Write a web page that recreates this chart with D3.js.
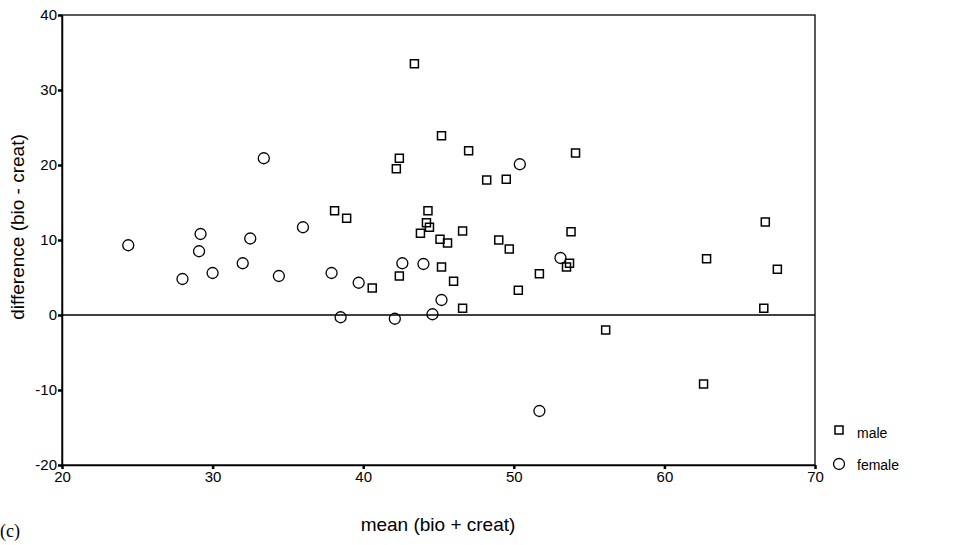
<!DOCTYPE html>
<html>
<head>
<meta charset="utf-8">
<script src="https://cdn.jsdelivr.net/npm/d3@7"></script>
<style>
  body { margin: 0; background: #fff; }
  text { font-family: "Liberation Sans", Arial, sans-serif; fill: #000; }
</style>
</head>
<body>
<svg id="chart"></svg>
<script>
// Data
const maleMean = [43.4, 45.2, 47.0, 42.4, 42.2, 48.2, 49.5, 54.1, 38.1, 38.9, 44.3, 44.2, 44.4, 43.8,
  45.1, 45.6, 46.6, 49.0, 49.7, 53.8, 53.7, 53.5, 51.7, 50.3, 45.2, 42.4, 46.0, 40.6, 46.6, 56.1,
  66.7, 62.8, 67.5, 66.6, 62.6];
const maleDiff = [33.5, 23.9, 21.9, 20.9, 19.5, 18.0, 18.1, 21.6, 13.9, 12.9, 13.9, 12.3, 11.7, 10.9,
  10.1, 9.6, 11.2, 10.0, 8.8, 11.1, 6.9, 6.4, 5.5, 3.3, 6.4, 5.2, 4.5, 3.6, 0.9, -2.0,
  12.4, 7.5, 6.1, 0.9, -9.2];
const femaleMean = [50.4, 36.0, 37.9, 39.7, 42.6, 44.0, 45.2, 38.5, 42.1, 44.6, 53.1,
  24.4, 29.2, 29.1, 28.0, 30.0, 32.0, 32.5, 34.4, 33.4, 51.7];
const femaleDiff = [20.1, 11.7, 5.6, 4.3, 6.9, 6.8, 2.0, -0.3, -0.5, 0.1, 7.6,
  9.3, 10.8, 8.5, 4.8, 5.6, 6.9, 10.2, 5.2, 20.9, -12.8];
const xTicks = [20, 30, 40, 50, 60, 70];
const yTicks = [-20, -10, 0, 10, 20, 30, 40];

const W = 968, H = 545;
const margin = { top: 15, right: 153, bottom: 80, left: 62 };
const width = W - margin.left - margin.right;
const height = H - margin.top - margin.bottom;

const svg = d3.select("#chart").attr("width", W).attr("height", H);
const g = svg.append("g").attr("transform", `translate(${margin.left},${margin.top})`);

const x = d3.scaleLinear().domain([20, 70]).range([0, width]);
const y = d3.scaleLinear().domain([-20, 40]).range([height, 0]);

// Frame
g.append("rect")
  .attr("width", width).attr("height", height)
  .attr("fill", "none").attr("stroke", "#000").attr("stroke-width", 1.3);

// Axes (plain hyphen for negatives, like the original)
const fmt = d => String(d);
const xAxis = g.append("g")
  .attr("transform", `translate(0,${height})`)
  .call(d3.axisBottom(x).tickValues(xTicks).tickFormat(fmt).tickSize(4).tickSizeOuter(0));
const yAxis = g.append("g")
  .call(d3.axisLeft(y).tickValues(yTicks).tickFormat(fmt).tickSize(4).tickSizeOuter(0));
[xAxis, yAxis].forEach(a => {
  a.select(".domain").attr("stroke-width", 1.5);
  a.selectAll(".tick line").attr("stroke-width", 2.5);
  a.selectAll(".tick text").attr("font-size", 15)
    .style("font-family", "'Liberation Sans', Arial, sans-serif");
});
yAxis.selectAll(".tick text").attr("x", -5);
xAxis.selectAll(".tick text").attr("y", 6);

// Zero reference line
g.append("line")
  .attr("x1", x(20)).attr("x2", x(70))
  .attr("y1", y(0)).attr("y2", y(0))
  .attr("stroke", "#000").attr("stroke-width", 1.3);

// Males: squares
const males = maleMean.map((m, i) => ({ m, d: maleDiff[i] }));
g.selectAll("rect.male")
  .data(males)
  .enter()
  .append("rect")
  .attr("class", "male")
  .attr("x", d => x(d.m) - 4)
  .attr("y", d => y(d.d) - 4)
  .attr("width", 8).attr("height", 8)
  .attr("fill", "none").attr("stroke", "#000").attr("stroke-width", 1.5);

// Females: circles
const females = femaleMean.map((m, i) => ({ m, d: femaleDiff[i] }));
g.selectAll("circle.female")
  .data(females)
  .enter()
  .append("circle")
  .attr("class", "female")
  .attr("cx", d => x(d.m))
  .attr("cy", d => y(d.d))
  .attr("r", 5.5)
  .attr("fill", "none").attr("stroke", "#000").attr("stroke-width", 1.3);

// Legend
const legend = svg.append("g").attr("transform", "translate(839,430)");
legend.append("rect")
  .attr("x", -4).attr("y", -4).attr("width", 8).attr("height", 8)
  .attr("fill", "none").attr("stroke", "#000").attr("stroke-width", 1.5);
legend.append("text").attr("x", 18).attr("y", 8).attr("font-size", 14).text("male");
legend.append("circle")
  .attr("cx", 0).attr("cy", 34).attr("r", 5.5)
  .attr("fill", "none").attr("stroke", "#000").attr("stroke-width", 1.3);
legend.append("text").attr("x", 18).attr("y", 40).attr("font-size", 14).text("female");

// Axis titles
svg.append("text")
  .attr("x", 438).attr("y", 531)
  .attr("text-anchor", "middle")
  .attr("font-size", 19)
  .text("mean (bio + creat)");

svg.append("text")
  .attr("transform", "translate(24,227) rotate(-90)")
  .attr("text-anchor", "middle")
  .attr("font-size", 19)
  .text("difference (bio - creat)");

svg.append("text")
  .attr("x", 0).attr("y", 537)
  .attr("font-size", 18)
  .style("font-family", "'Liberation Serif', 'Times New Roman', serif")
  .text("(c)");
</script>
</body>
</html>
